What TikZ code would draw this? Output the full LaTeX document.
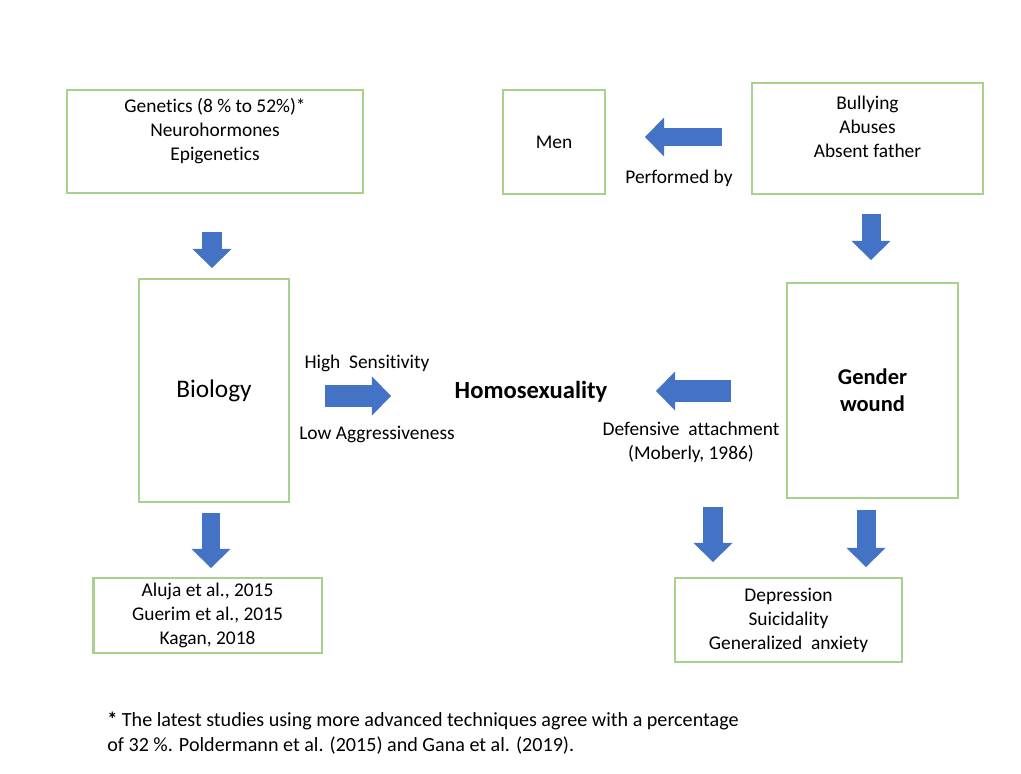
\documentclass[tikz,border=0pt]{standalone}
\usepackage{fontspec}
\setmainfont{Carlito}[Ligatures=NoCommon]
\usepackage{tikz}
\usetikzlibrary{arrows.meta, positioning}
\definecolor{boxgreen}{RGB}{169, 209, 142}
\definecolor{arrblue}{RGB}{68, 114, 196}

\begin{document}
\begin{tikzpicture}[
  x=0.025cm, y=-0.025cm,
  font=\fontsize{13.8}{17}\selectfont,
  box/.style={draw=boxgreen, line width=0.05cm, align=center, inner sep=0pt},
  lbl/.style={align=center, inner sep=0pt},
  blk/.style={arrblue, line width=#1, -{Triangle[length=0.475cm, width=0.975cm, line width=0pt]}},
  blk/.default=0.475cm
]
  \useasboundingbox (0,0) rectangle (1021,774);

  % boxes
  \node[box, minimum width=7.4cm, minimum height=2.575cm] (genetics) at (215,141.5) {
    Genetics (8 \% to 52\%)*\\
    Neurohormones\\
    Epigenetics\\~
  };
  \node[box, minimum width=2.55cm, minimum height=2.6cm] (men) at (554,142) {Men};
  \node[box, minimum width=5.775cm, minimum height=2.775cm] (bullying) at (867.5,138.5) {
    Bullying\\
    Abuses\\
    Absent father\\~
  };
  \node[box, minimum width=3.75cm, minimum height=5.575cm, font=\fontsize{18}{22}\selectfont] (biology) at (214,390.5) {Biology};
  \node[box, minimum width=4.275cm, minimum height=5.375cm, font=\fontsize{16}{19.2}\selectfont\bfseries] (wound) at (872.5,390.5) {
    Gender\\
    wound
  };
  \node[box, minimum width=5.725cm, minimum height=1.875cm] (aluja) at (207.5,615.5) {
    Aluja et al., 2015\\
    Guerim et al., 2015\\
    Kagan, 2018
  };
  \draw[boxgreen, line width=0.09cm] ([xshift=0.04cm]aluja.north west) -- ([xshift=0.04cm]aluja.south west);
  \node[box, minimum width=5.675cm, minimum height=2.1cm] (effects) at (788.5,620) {
    Depression\\
    Suicidality\\
    Generalized\ \ anxiety
  };

  % centre
  \node[lbl, font=\fontsize{17.5}{21}\selectfont\bfseries] (homo) at (531,392) {Homosexuality};
  \node[lbl] (high) at (367,363) {High\ \ Sensitivity};
  \node[lbl] (low) at (377,434) {Low Aggressiveness};
  \node[lbl] (defensive) at (691,442) {
    Defensive\ \ attachment\\
    (Moberly, 1986)
  };
  \node[lbl] (performed) at (679,178) {Performed by};

  % block arrows
  \coordinate (gen-a) at (212,232);   \coordinate (gen-b) at (212,268);
  \coordinate (bul-a) at (871,214);   \coordinate (bul-b) at (871,260);
  \coordinate (men-a) at (722,137);   \coordinate (men-b) at (645,137);
  \coordinate (bio-a) at (325,396);   \coordinate (bio-b) at (391,396);
  \coordinate (wou-a) at (731,391);   \coordinate (wou-b) at (656,391);
  \coordinate (low-a) at (211,513);   \coordinate (low-b) at (211,568);
  \coordinate (dl-a) at (713,507);    \coordinate (dl-b) at (713,562);
  \coordinate (dr-a) at (866,510);    \coordinate (dr-b) at (866,567);

  \draw[blk=0.5cm] (gen-a) -- (gen-b);
  \draw[blk=0.475cm] (bul-a) -- (bul-b);
  \draw[blk=0.45cm] (men-a) -- (men-b);
  \draw[blk=0.55cm] (bio-a) -- (bio-b);
  \draw[blk=0.55cm] (wou-a) -- (wou-b);
  \draw[blk=0.45cm] (low-a) -- (low-b);
  \draw[blk=0.5cm] (dl-a) -- (dl-b);
  \draw[blk=0.475cm] (dr-a) -- (dr-b);

  % footnote
  \node[lbl, align=left, anchor=west, font=\fontsize{14.3}{17.6}\selectfont] (note) at (107,733) {
    {\Large\bfseries *} The latest studies using more advanced techniques agree with a percentage\\
    of 32 \%. Poldermann et al. (2015) and Gana et al. (2019).
  };
\end{tikzpicture}
\end{document}
